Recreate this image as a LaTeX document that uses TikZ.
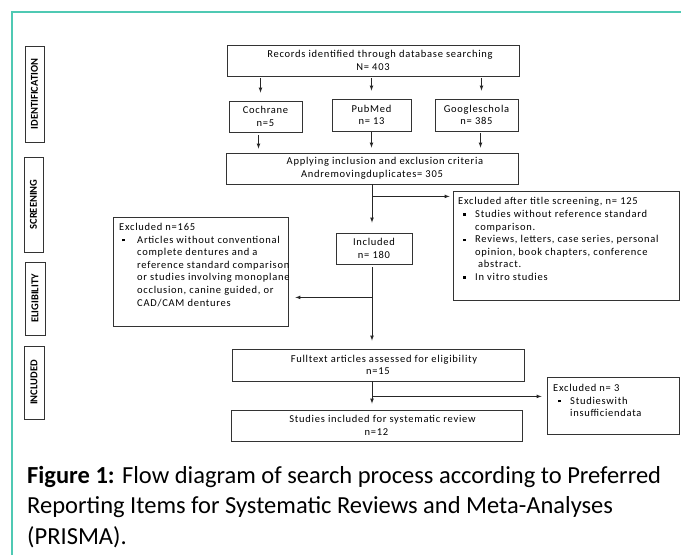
\documentclass[tikz,border=0pt]{standalone}
\usepackage{fontspec}
\setmainfont{Carlito}
\usetikzlibrary{arrows,calc}
\definecolor{frameteal}{HTML}{4FC9B3}
\newfontfamily\boxfam{Carlito}[LetterSpace=7]
\newcommand{\boxfont}{\boxfam\fontsize{10.5}{12.6}\selectfont}
\newcommand{\sidefont}{\fontsize{10.5}{11}\selectfont\bfseries}
\newcommand{\sqbul}{\rule[1.6pt]{2.6pt}{2.6pt}}

\begin{document}
\begin{tikzpicture}[x=1pt,y=-1pt,
    box/.style={draw=black!80,line width=0.8pt,inner sep=0pt,align=center,font=\boxfont},
    side/.style={draw=black!80,line width=0.8pt,inner sep=0pt,rotate=90,font=\sidefont},
    lst/.style={inner sep=0pt,align=left,anchor=north west,font=\boxfont},
    arr/.style={-latex,line width=0.7pt,black!85}]
  \useasboundingbox (0,0) rectangle (681,555);
  \draw[frameteal,line width=2pt] (11.5,555) -- (11.5,12) -- (681,12);

  \node[side,minimum width=96,minimum height=19] (ident) at (34.5,94) {IDENTIFICATION};
  \node[side,minimum width=95,minimum height=19] (scr) at (33.5,204.5) {SCREENING};
  \node[side,minimum width=73,minimum height=20] (elig) at (35,298.5) {ELIGIBILITY};
  \node[side,minimum width=73,minimum height=20] (inc) at (34,382.5) {INCLUDED};

  \node[box,minimum width=292,minimum height=31] (rec) at (373,60.5)
    {\hspace*{14pt}Records identified through database searching\\N= 403};
  \node[box,minimum width=73,minimum height=31] (coch) at (265.5,116.5) {Cochrane\\n=5};
  \node[box,minimum width=79,minimum height=32] (pubm) at (371.5,115) {PubMed\\n= 13};
  \node[box,minimum width=83,minimum height=32] (goog) at (476.5,115) {Googleschola\\n= 385};
  \node[box,minimum width=292,minimum height=31] (apply) at (372,168.5)
    {\hspace*{26pt}Applying inclusion and exclusion criteria\\Andremovingduplicates= 305};
  \node[box,minimum width=76,minimum height=31] (incl) at (374,248.5) {Included\\n= 180};
  \node[box,minimum width=292,minimum height=32] (full) at (378,365)
    {\hspace*{12pt}Fulltext articles assessed for eligibility\\n=15};
  \node[box,minimum width=291,minimum height=31] (stud) at (376.5,425.5)
    {\hspace*{12pt}Studies included for systematic review\\n=12};

  \node[box,minimum width=226,minimum height=109] (ex1) at (566,245.5) {};
  \node[lst] (ex1txt) at (458,197.5) {Excluded after title screening, n= 125\\
    \hspace*{5pt}\makebox[12pt][l]{\sqbul}Studies without reference standard\\
    \hspace*{17pt}comparison.\\
    \hspace*{5pt}\makebox[12pt][l]{\sqbul}Reviews, letters, case series, personal\\
    \hspace*{17pt}opinion, book chapters, conference\\
    \hspace*{20pt}abstract.\\
    \hspace*{5pt}\makebox[12pt][l]{\sqbul}In vitro studies};
  \node[box,minimum width=175,minimum height=109] (ex2) at (200.5,271.5) {};
  \node[lst] (ex2txt) at (119,223) {Excluded n=165\\
    \hspace*{3pt}\makebox[15pt][l]{\sqbul}Articles without conventional\\
    \hspace*{18pt}complete dentures and a\\
    \hspace*{18pt}reference standard comparison\\
    \hspace*{18pt}or studies involving monoplane\\
    \hspace*{18pt}occlusion, canine guided, or\\
    \hspace*{18pt}CAD/CAM dentures};
  \node[box,minimum width=132,minimum height=57] (ex3) at (613,405.5) {};
  \node[lst] (ex3txt) at (553,384) {Excluded n= 3\\
    \hspace*{5pt}\makebox[12pt][l]{\sqbul}Studieswith\\
    \hspace*{17pt}insufficiendata};

  \draw[arr,shorten <=2pt,shorten >=8pt] ([xshift=-5]coch.north |- rec.south) -- ([xshift=-5]coch.north);
  \draw[arr,shorten <=2pt,shorten >=8pt] (pubm.north |- rec.south) -- (pubm.north);
  \draw[arr,shorten <=2pt,shorten >=8pt] ([xshift=5]goog.north |- rec.south) -- ([xshift=5]goog.north);
  \draw[arr,shorten <=3pt,shorten >=4pt] ([xshift=-7]coch.south) -- ([xshift=-7]coch.south |- apply.north);
  \draw[arr,shorten <=1pt,shorten >=5pt] (pubm.south) -- (pubm.south |- apply.north);
  \draw[arr,shorten <=2pt,shorten >=5pt] ([xshift=4]goog.south) -- ([xshift=4]goog.south |- apply.north);

  \coordinate (b1) at ($(apply.south)+(0,12)$);
  \coordinate (b2) at ($(incl.south -| apply.south)+(0,33)$);
  \coordinate (b3) at ($(full.south -| apply.south)+(0,15)$);
  \draw[arr,shorten >=10pt] (apply.south) -- (apply.south |- incl.north);
  \draw[arr,shorten >=3pt] (b1) -- (b1 -| ex1.west);
  \draw[arr,shorten <=3pt,shorten >=8pt] (incl.south -| apply.south) -- (full.north -| apply.south);
  \draw[arr,shorten >=7pt] (b2) -- (b2 -| ex2.east);
  \draw[arr,shorten >=6pt] (full.south -| apply.south) -- (stud.north -| apply.south);
  \draw[arr,shorten >=5pt] (b3) -- (b3 -| ex3.west);

  \node[inner sep=0pt,anchor=north west,align=left,font=\fontsize{24.5}{30.5}\selectfont] (cap) at (27,466)
    {\textbf{Figure 1:} Flow diagram of search process according to Preferred\\
    Reporting Items for Systematic Reviews and Meta-Analyses\\
    (PRISMA).};
\end{tikzpicture}
\end{document}
